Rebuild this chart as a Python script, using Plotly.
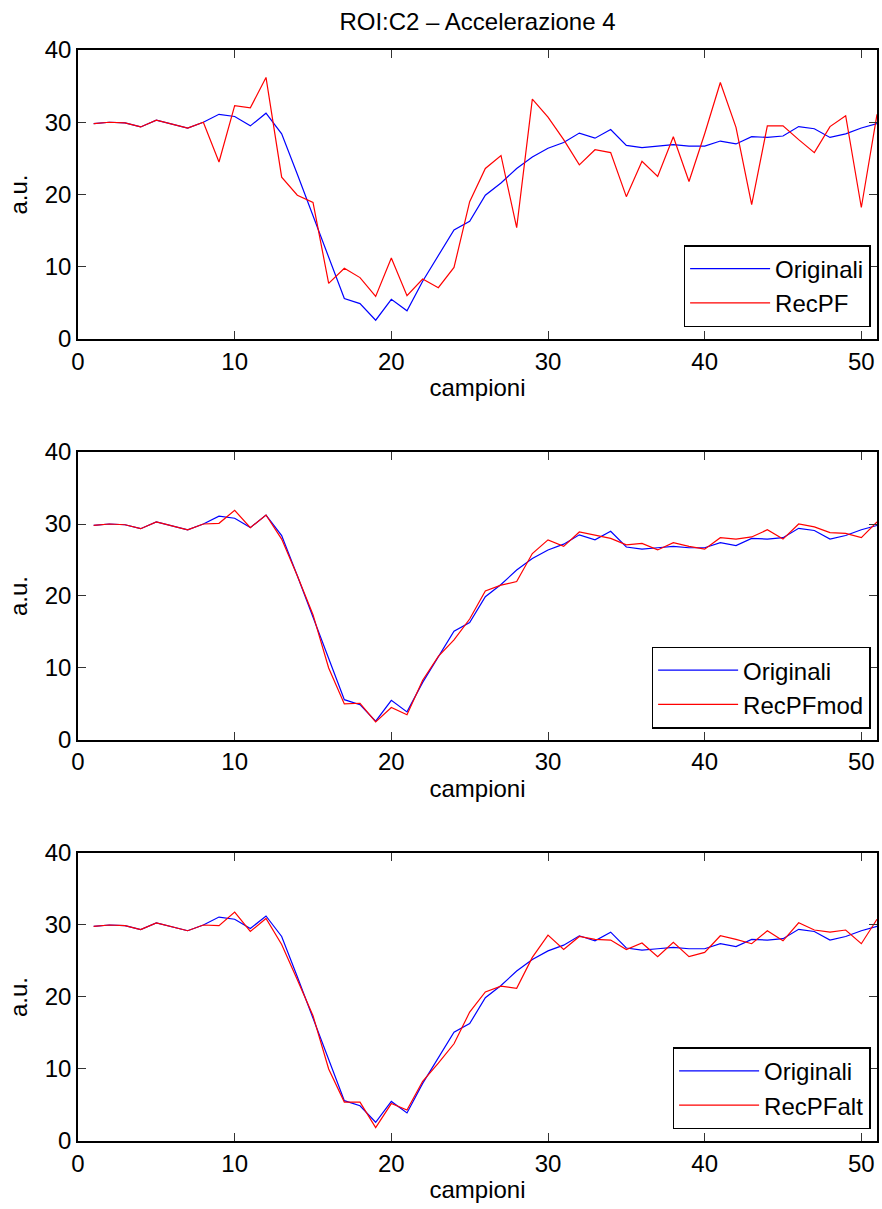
import plotly.graph_objects as go

# Sample index (campioni) and intensity curves for ROI C2, acceleration 4
campioni = list(range(1, 52))

originali = [29.8, 30.0, 29.9, 29.35, 30.3, 29.8, 29.2, 30.0, 31.1, 30.8,
             29.5, 31.25, 28.4, 22.8, 17.1, 11.4, 5.6, 4.9, 2.6, 5.5,
             3.9, 8.0, 11.6, 15.1, 16.3, 19.9, 21.6, 23.6, 25.2, 26.4,
             27.2, 28.5, 27.8, 29.0, 26.8, 26.5, 26.7, 26.9, 26.7, 26.7,
             27.4, 27.0, 28.0, 27.9, 28.1, 29.4, 29.1, 27.9, 28.4, 29.2,
             29.8]

recpf = [29.8, 30.0, 29.9, 29.35, 30.3, 29.8, 29.2, 30.0, 24.5, 32.3,
         32.0, 36.2, 22.4, 19.9, 18.9, 7.7, 9.8, 8.5, 5.9, 11.2,
         6.0, 8.3, 7.1, 9.9, 19.0, 23.6, 25.4, 15.4, 33.2, 30.7,
         27.6, 24.1, 26.2, 25.8, 19.7, 24.6, 22.5, 28.0, 21.8, 28.4,
         35.5, 29.3, 18.6, 29.5, 29.5, 27.6, 25.8, 29.4, 30.9, 18.2,
         31.1]

recpf_mod = [29.8, 30.0, 29.9, 29.35, 30.3, 29.8, 29.2, 30.0, 30.1, 31.9,
             29.5, 31.25, 27.9, 22.8, 17.4, 10.0, 5.0, 5.1, 2.5, 4.5,
             3.5, 8.3, 11.6, 13.9, 16.8, 20.7, 21.5, 22.0, 25.9, 27.8,
             26.9, 28.9, 28.4, 28.0, 27.1, 27.3, 26.4, 27.4, 26.9, 26.5,
             28.1, 27.9, 28.2, 29.2, 27.9, 30.0, 29.6, 28.8, 28.7, 28.1,
             30.3]

recpf_alt = [29.8, 30.0, 29.9, 29.35, 30.3, 29.8, 29.2, 30.0, 29.9, 31.8,
             29.1, 30.9, 27.3, 22.4, 17.4, 10.0, 5.4, 5.4, 1.85, 5.2,
             4.3, 8.3, 10.8, 13.5, 17.9, 20.7, 21.5, 21.2, 25.5, 28.6,
             26.6, 28.4, 28.0, 27.9, 26.6, 27.5, 25.6, 27.6, 25.6, 26.2,
             28.5, 28.0, 27.4, 29.2, 27.8, 30.3, 29.3, 29.0, 29.3, 27.4,
             30.8]

panels = [("RecPF", recpf), ("RecPFmod", recpf_mod), ("RecPFalt", recpf_alt)]

x_ticks = [0, 10, 20, 30, 40, 50]
y_ticks = [0, 10, 20, 30, 40]

FONT = "Liberation Sans, Arial, Helvetica, sans-serif"
FS = 24
BLUE = "rgb(0,0,255)"
RED = "rgb(255,0,0)"

# vertical domains of the three stacked axes (top to bottom)
domains = [(0.7351, 1.0), (0.3676, 0.6315), (0.0, 0.264)]
legend_y = [0.746, 0.378, 0.0107]
legend_names = ["legend", "legend2", "legend3"]

fig = go.Figure()
layout = {}

for i, ((name, rec), dom) in enumerate(zip(panels, domains)):
    sfx = "" if i == 0 else str(i + 1)
    xa, ya = "x" + sfx, "y" + sfx
    leg = legend_names[i]
    fig.add_trace(go.Scatter(x=campioni, y=originali, mode="lines", name="Originali",
                             line=dict(color=BLUE, width=1.2),
                             xaxis=xa, yaxis=ya, legend=leg))
    fig.add_trace(go.Scatter(x=campioni, y=rec, mode="lines", name=name,
                             line=dict(color=RED, width=1.2),
                             xaxis=xa, yaxis=ya, legend=leg))
    common = dict(showline=True, linecolor="black", linewidth=1.5, mirror="ticks",
                  ticks="inside", ticklen=8, tickwidth=1, tickcolor="#333",
                  showgrid=False, zeroline=False,
                  tickfont=dict(family=FONT, size=FS, color="black"))
    layout["xaxis" + sfx] = dict(common, domain=[0, 1], range=[0, 51],
                                 tickvals=x_ticks, anchor=ya,
                                 title=dict(text="campioni", standoff=6,
                                            font=dict(family=FONT, size=FS, color="black")))
    layout["yaxis" + sfx] = dict(common, domain=list(dom), range=[0, 40],
                                 tickvals=y_ticks, anchor=xa,
                                 title=dict(text="a.u.", standoff=10,
                                            font=dict(family=FONT, size=FS, color="black")))
    layout[leg] = dict(x=0.992, y=legend_y[i], xanchor="right", yanchor="bottom",
                       bgcolor="white", bordercolor="black", borderwidth=1.5,
                       font=dict(family=FONT, size=FS, color="black"),
                       itemwidth=80, tracegroupgap=0)

fig.update_layout(
    width=882, height=1209,
    margin=dict(l=78, r=3, t=50, b=68),
    paper_bgcolor="white", plot_bgcolor="white",
    font=dict(family=FONT, size=FS, color="black"),
    title=dict(text="ROI:C2 \u2013 Accelerazione 4", x=0.5, xref="paper",
               y=1 - 22 / 1209, yref="container", yanchor="middle", xanchor="center",
               font=dict(family=FONT, size=FS, color="black")),
    **layout,
)

fig.write_html("out.html")
